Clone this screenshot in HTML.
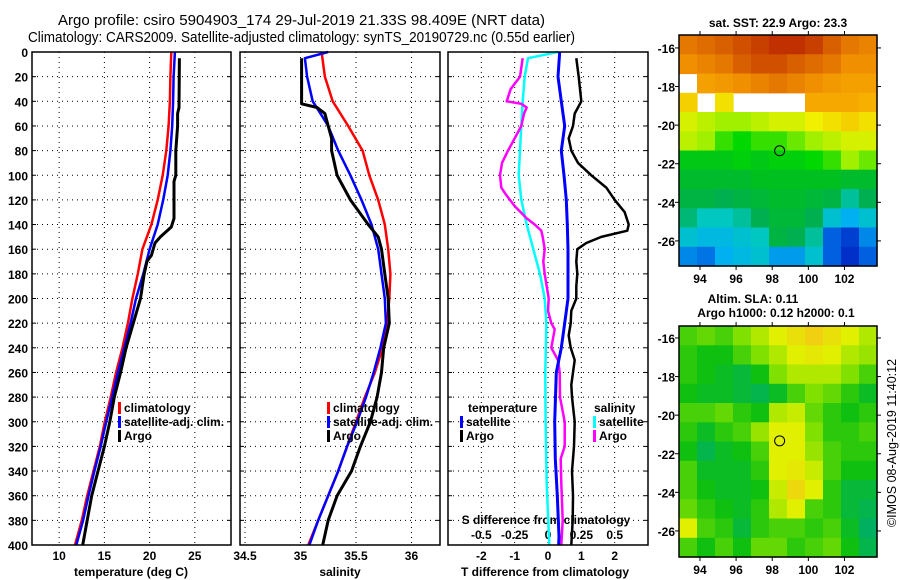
<!DOCTYPE html>
<html><head><meta charset="utf-8"><style>
html,body{margin:0;padding:0;background:#fff;}
svg{display:block;font-family:"Liberation Sans",Arial,sans-serif;}
.t{font-weight:bold;font-size:12px;fill:#000;}
</style></head><body>
<svg id="fig" width="900" height="580" viewBox="0 0 900 580" xmlns="http://www.w3.org/2000/svg">
<text x="58" y="25" font-size="15" textLength="487" lengthAdjust="spacingAndGlyphs">Argo profile: csiro 5904903_174 29-Jul-2019 21.33S 98.409E (NRT data)</text>
<text x="28" y="42" font-size="15" textLength="547" lengthAdjust="spacingAndGlyphs">Climatology: CARS2009. Satellite-adjusted climatology: synTS_20190729.nc (0.55d earlier)</text>
<g id="layer"></g>
</svg>
<script>
// ---------- data ----------
const depthTicks = [0,20,40,60,80,100,120,140,160,180,200,220,240,260,280,300,320,340,360,380,400];
const tTicks = [10,15,20,25];
const sTicks = [34.5,35,35.5,36];
const sTickLabels = ["34.5","35","35.5","36"];
const dTicks = [-2,-1,0,1,2];
const dsTicks = [-0.5,-0.25,0,0.25,0.5];
const dsTickLabels = ["-0.5","-0.25","0","0.25","0.5"];

const climDepth = [0,20,40,60,80,100,120,140,160,180,200,220,240,260,280,300,320,340,360,380,400];
const climTemp = [22.4,22.3,22.25,22.1,21.85,21.45,20.9,20.2,19.2,18.7,18.1,17.6,17.0,16.3,15.7,15.05,14.5,13.8,13.1,12.5,11.75];
const satTemp = [22.8,22.65,22.6,22.5,22.3,22.0,21.5,20.9,20.0,19.3,18.5,17.9,17.2,16.5,15.85,15.2,14.6,13.9,13.25,12.65,11.9];
const climSal = [35.19,35.22,35.29,35.43,35.56,35.62,35.7,35.76,35.79,35.81,35.8,35.78,35.74,35.67,35.58,35.5,35.42,35.34,35.25,35.16,35.07];
const satSalDepth = [0,5,20,40,50,60,80,100,120,140,160,180,200,220,240,260,280,300,320,340,360,380,400];
const satSal = [35.25,35.04,35.06,35.11,35.18,35.25,35.34,35.45,35.55,35.64,35.7,35.73,35.76,35.77,35.72,35.66,35.59,35.51,35.42,35.34,35.25,35.16,35.08];

const argoDepth = [5,45,50,60,80,100,105,135,142,150,155,165,170,180,200,220,240,260,280,300,320,340,360,380,400];
const argoTemp = [23.3,23.25,23.1,23.1,22.9,22.9,22.7,22.7,22.4,21.2,20.6,20.2,19.7,19.4,19.0,18.2,17.4,16.8,16.1,15.6,15.0,14.3,13.6,13.1,12.6];
const argoSalDepth = [5,42,45,50,60,70,80,100,120,140,150,160,180,200,220,240,260,280,300,320,340,360,380,400];
const argoSal = [35.01,35.01,35.15,35.22,35.25,35.28,35.28,35.33,35.45,35.61,35.7,35.73,35.76,35.79,35.8,35.75,35.73,35.69,35.63,35.54,35.46,35.33,35.25,35.2];

const dTDepthArgo = [5,20,40,45,50,60,70,80,90,100,110,120,130,140,145,150,155,160,170,180,190,200,210,220,230,240,250,260,270,280,300,320,340,360,380,400];
const dTArgo = [0.85,0.92,1.0,0.9,0.8,0.75,0.62,0.7,0.9,1.3,1.75,2.0,2.3,2.42,2.38,1.6,1.15,0.88,0.85,0.88,0.85,0.85,0.7,0.68,0.62,0.68,0.8,0.75,0.7,0.72,0.8,0.78,0.72,0.75,0.74,0.7];
const dTDepthSat = [0,20,40,60,80,100,120,140,160,180,200,220,240,260,300,330,360,393,400];
const dTSat = [0.35,0.3,0.4,0.5,0.4,0.48,0.55,0.58,0.6,0.6,0.6,0.5,0.4,0.25,0.2,0.22,0.28,0.33,0.32];
const dSDepthSat = [0,5,20,40,60,80,100,120,140,160,180,200,220,260,300,350,400];
const dSSat = [0.075,-0.15,-0.175,-0.19,-0.2,-0.21,-0.22,-0.2,-0.16,-0.11,-0.06,-0.025,-0.012,-0.02,-0.018,-0.01,0.01];
const dSDepthArgo = [5,20,30,40,42,45,50,60,70,80,90,100,110,115,125,135,140,145,150,160,170,180,200,210,220,225,240,250,260,280,300,320,330,350,380,400];
const dSArgo = [-0.19,-0.21,-0.28,-0.31,-0.2,-0.16,-0.18,-0.2,-0.25,-0.3,-0.345,-0.36,-0.35,-0.32,-0.25,-0.16,-0.1,-0.05,-0.04,-0.025,-0.035,-0.025,0.005,0.0,0.025,0.05,0.025,0.075,0.088,0.09,0.125,0.125,0.095,0.1,0.11,0.1];

const sstGrid = [
[24.5,24.6,24.7,24.8,24.9,25.0,25.0,24.9,24.7,24.5,24.4],
[24.3,24.4,24.5,24.7,24.8,24.8,24.7,24.6,24.5,24.3,24.3],
[null,24.1,24.2,24.3,24.4,24.5,24.4,24.3,24.2,24.1,24.1],
[23.7,null,23.6,null,null,null,null,24.0,24.0,24.0,23.9],
[23.4,23.3,23.2,23.2,23.3,23.4,23.4,23.5,23.6,23.7,23.6],
[23.3,23.2,23.0,22.9,23.0,23.0,23.1,23.2,23.3,23.4,23.4],
[22.7,22.7,22.7,22.8,22.7,22.8,22.8,22.9,23.0,23.2,23.1],
[22.5,22.5,22.5,22.5,22.6,22.6,22.6,22.6,22.6,22.5,22.5],
[22.3,22.3,22.2,22.3,22.4,22.5,22.5,22.4,22.3,22.0,22.2],
[22.1,21.9,21.9,22.0,22.2,22.4,22.4,22.2,21.8,21.6,21.8],
[21.8,21.7,21.7,21.8,21.9,22.3,22.2,22.0,21.2,21.0,21.4],
[21.4,21.3,21.6,21.7,21.8,21.5,21.5,21.8,21.2,20.9,21.2]];
const slaGrid = [
[0.06,0.07,0.06,0.08,0.10,0.12,0.14,0.16,0.14,0.12,0.10],
[0.05,0.04,0.04,0.06,0.08,0.10,0.12,0.13,0.12,0.10,0.09],
[0.05,0.04,0.03,0.02,0.04,0.08,0.10,0.10,0.10,0.08,0.06],
[0.04,0.03,0.03,0.02,0.01,0.03,0.06,0.08,0.07,0.05,0.03],
[0.06,0.06,0.07,0.05,0.04,0.10,0.11,0.07,0.05,0.04,0.05],
[0.05,0.03,0.05,0.06,0.09,0.12,0.12,0.08,0.05,0.05,0.06],
[0.04,0.01,0.03,0.04,0.06,0.12,0.12,0.09,0.06,0.05,0.05],
[0.06,0.03,0.03,0.03,0.05,0.12,0.13,0.11,0.06,0.04,0.04],
[0.06,0.04,0.03,0.03,0.04,0.11,0.15,0.12,0.05,0.02,0.02],
[0.07,0.05,0.04,0.03,0.05,0.10,0.12,0.06,0.05,0.02,0.01],
[0.12,0.06,0.05,0.02,0.05,0.06,0.06,0.05,0.06,0.03,0.00],
[0.06,0.04,0.06,0.04,0.07,0.07,0.05,0.06,0.07,0.04,0.01]];
const lonTicks = [94,96,98,100,102];
const latTicks = [-16,-18,-20,-22,-24,-26];
const argoLon = [98.41];
const argoLat = [-21.33];

// ---------- drawing ----------
const NS = "http://www.w3.org/2000/svg";
const L = document.getElementById('layer');
function mk(tag, attrs, parent){const e=document.createElementNS(NS,tag);for(const k in attrs)e.setAttribute(k,attrs[k]);(parent||L).appendChild(e);return e;}
function lin(d0,d1,r0,r1){return v=>r0+(v-d0)/(d1-d0)*(r1-r0);}
const Y = lin(0,400,52,545);
const panels = [
 {name:'temperature-panel', x0:32,x1:231, xs:lin(7,29,32,231)},
 {name:'salinity-panel', x0:240,x1:440, xs:lin(34.455,36.257,240,440)},
 {name:'difference-panel', x0:448,x1:648, xs:lin(-3,3,448,648)}
];
function grid(p, xt){
  depthTicks.forEach(d=>{ if(d>0&&d<400){const l=mk('line',{x1:p.x0,x2:p.x1,y1:Y(d),y2:Y(d),stroke:'#000','stroke-width':1,'stroke-dasharray':'1 4'});
    
    
    mk('line',{x1:p.x0,x2:p.x0+4,y1:Y(d),y2:Y(d),stroke:'#000'}); mk('line',{x1:p.x1-4,x2:p.x1,y1:Y(d),y2:Y(d),stroke:'#000'});}});
  xt.forEach(v=>{const x=p.xs(v);const l=mk('line',{x1:x,x2:x,y1:52,y2:545,stroke:'#000','stroke-width':1,'stroke-dasharray':'1 4'});
    
    });
}
function frame(p){const r=mk('rect',{x:p.x0,y:52,width:p.x1-p.x0,height:493,fill:'none',stroke:'#000','stroke-width':1.5});
  
  }
function line(p, depths, vals, color, w, name, scale){
  const s=scale||p.xs;
  const pts=depths.map((d,i)=>s(vals[i]).toFixed(1)+','+Y(d).toFixed(1)).join(' ');
  const e=mk('polyline',{points:pts,fill:'none',stroke:color,'stroke-width':w,'stroke-linejoin':'round'});
  
  
}
function txt(x,y,s,anchor,cls,name,extra){const e=mk('text',Object.assign({x:x,y:y,'text-anchor':anchor||'start',class:cls||'t'},extra||{}));e.textContent=s;
  
  return e;}

const P1=panels[0], P2=panels[1], P3=panels[2];
grid(P1,tTicks); grid(P2,sTicks); grid(P3,dTicks);
depthTicks.forEach(d=>txt(28,Y(d)+5,String(d),'end','t','depth-tick-label'));
tTicks.forEach(v=>txt(P1.xs(v),560,String(v),'middle','t','temperature-tick-label'));
txt(131,576,'temperature (deg C)','middle','t','temperature-axis-title');
line(P1,climDepth,climTemp,'#ff0000',2.5,'temp-climatology-line');
line(P1,climDepth,satTemp,'#0000ff',2.5,'temp-satellite-line');
line(P1,argoDepth,argoTemp,'#000',3,'temp-argo-line');
sTicks.forEach((v,i)=>txt(P2.xs(v),560,sTickLabels[i],'middle','t','salinity-tick-label'));
txt(340,576,'salinity','middle','t','salinity-axis-title');
line(P2,climDepth,climSal,'#ff0000',2.5,'sal-climatology-line');
line(P2,satSalDepth,satSal,'#0000ff',2.5,'sal-satellite-line');
line(P2,argoSalDepth,argoSal,'#000',3,'sal-argo-line');
const SX = lin(-0.75,0.75,448,648);
dTicks.forEach(v=>txt(P3.xs(v),560,String(v),'middle','t','tdiff-tick-label'));
txt(545,576,'T difference from climatology','middle','t','tdiff-axis-title');
dsTicks.forEach((v,i)=>txt(SX(v),539,dsTickLabels[i],'middle','t','sdiff-tick-label'));
txt(546,524,'S difference from climatology','middle','t','sdiff-axis-title');
line(P3,dSDepthSat,dSSat,'#00ffff',2.5,'sdiff-satellite-line',SX);
line(P3,dSDepthArgo,dSArgo,'#ff00ff',2.5,'sdiff-argo-line',SX);
line(P3,dTDepthSat,dTSat,'#0000ff',3,'tdiff-satellite-line');
line(P3,dTDepthArgo,dTArgo,'#000',2.5,'tdiff-argo-line');
[P1,P2,P3].forEach(frame);

function legendEntry(mx,y,color,label,name){
  const r=mk('rect',{x:mx,y:y-10,width:3,height:12,fill:color});
  
  
  txt(mx+6,y,label,'start','t',name);
}
legendEntry(118,412,'#ff0000','climatology','legend-climatology');
legendEntry(118,426,'#0000ff','satellite-adj. clim.','legend-satellite-adj');
legendEntry(118,440,'#000000','Argo','legend-argo');
legendEntry(327,412,'#ff0000','climatology','legend-climatology-2');
legendEntry(327,426,'#0000ff','satellite-adj. clim.','legend-satellite-adj-2');
legendEntry(327,440,'#000000','Argo','legend-argo-2');
txt(468,412,'temperature','start','t','legend-temperature-header');
legendEntry(460,426,'#0000ff','satellite','legend-temp-satellite');
legendEntry(460,440,'#000000','Argo','legend-temp-argo');
txt(594,412,'salinity','start','t','legend-salinity-header');
legendEntry(593,426,'#00ffff','satellite','legend-sal-satellite');
legendEntry(593,440,'#ff00ff','Argo','legend-sal-argo');

function interp(stops,v){
  if(v<=stops[0][0]){const c=stops[0][1];return 'rgb('+c.join(',')+')';}
  for(let i=1;i<stops.length;i++){if(v<=stops[i][0]){const a=stops[i-1],b=stops[i],t=(v-a[0])/(b[0]-a[0]);
    return 'rgb('+[0,1,2].map(k=>Math.round(a[1][k]+t*(b[1][k]-a[1][k]))).join(',')+')';}}
  const c=stops[stops.length-1][1];return 'rgb('+c.join(',')+')';
}
const sstStops=[[20.8,[0,32,192]],[21.2,[0,96,224]],[21.6,[0,176,240]],[21.9,[0,200,192]],[22.2,[0,176,80]],[22.6,[0,192,32]],[22.9,[0,216,0]],[23.2,[160,240,0]],[23.5,[240,240,0]],[23.9,[248,176,0]],[24.3,[240,144,0]],[24.7,[216,96,0]],[25.0,[192,48,0]]];
const slaStops=[[0.0,[0,176,96]],[0.04,[16,192,16]],[0.08,[128,224,0]],[0.12,[224,240,0]],[0.16,[240,208,16]]];
function drawMap(m){
  const LX=lin(92.84,103.8,m.x0,m.x1), LY=lin(m.latTop,m.latBot,m.y0,m.y1);
  const g=mk('g',{});
  
  
  const rows=m.data.length, cols=m.data[0].length;
  const dlon=(103.8-92.84)/cols, dlat=(m.latBot-m.latTop)/rows;
  m.data.forEach((row,i)=>row.forEach((v,j)=>{
    if(v===null)return;
    const xa=LX(92.84+j*dlon), xb=LX(92.84+(j+1)*dlon), ya=LY(m.latTop+i*dlat), yb=LY(m.latTop+(i+1)*dlat);
    const c=mk('rect',{x:xa.toFixed(1),y:ya.toFixed(1),width:(xb-xa+0.6).toFixed(1),height:(yb-ya+0.6).toFixed(1),fill:interp(m.stops,v)},g);
    
    
  }));
  const fr=mk('rect',{x:m.x0,y:m.y0,width:m.x1-m.x0,height:m.y1-m.y0,fill:'none',stroke:'#000','stroke-width':1.5});
  
  
  lonTicks.forEach(v=>{const x=LX(v);mk('line',{x1:x,x2:x,y1:m.y0-4,y2:m.y0,stroke:'#000'});mk('line',{x1:x,x2:x,y1:m.y1,y2:m.y1+4,stroke:'#000'});
    txt(x,m.y1+17,String(v),'middle','t','longitude-tick-label');});
  latTicks.forEach(v=>{const y=LY(v);mk('line',{x1:m.x0-4,x2:m.x0,y1:y,y2:y,stroke:'#000'});mk('line',{x1:m.x1,x2:m.x1+4,y1:y,y2:y,stroke:'#000'});
    txt(m.x0-4,y+5,String(v),'end','t','latitude-tick-label');});
  argoLon.forEach((lo,i)=>{const c=mk('circle',{cx:LX(lo),cy:LY(argoLat[i]),r:5,fill:'none',stroke:'#000','stroke-width':1});
    
    });
}
drawMap({name:'sst-map',x0:679,x1:877,y0:35,y1:266,latTop:-15.33,latBot:-27.3,data:sstGrid,stops:sstStops});
drawMap({name:'sla-map',x0:679,x1:877,y0:326,y1:557,latTop:-15.38,latBot:-27.35,data:slaGrid,stops:slaStops});
txt(778,27,'sat. SST: 22.9 Argo: 23.3','middle','t','sst-map-title');
txt(753,303,'Altim. SLA: 0.11','middle','t','sla-map-title');
txt(776,317,'Argo h1000: 0.12 h2000: 0.1','middle','t','sla-map-subtitle');
const cr=txt(0,0,'©IMOS 08-Aug-2019 11:40:12','middle','t','imos-credit',{transform:'translate(896,443) rotate(-90)'});
cr.setAttribute('style','font-weight:normal;font-size:12.5px');
</script>
</body></html>
